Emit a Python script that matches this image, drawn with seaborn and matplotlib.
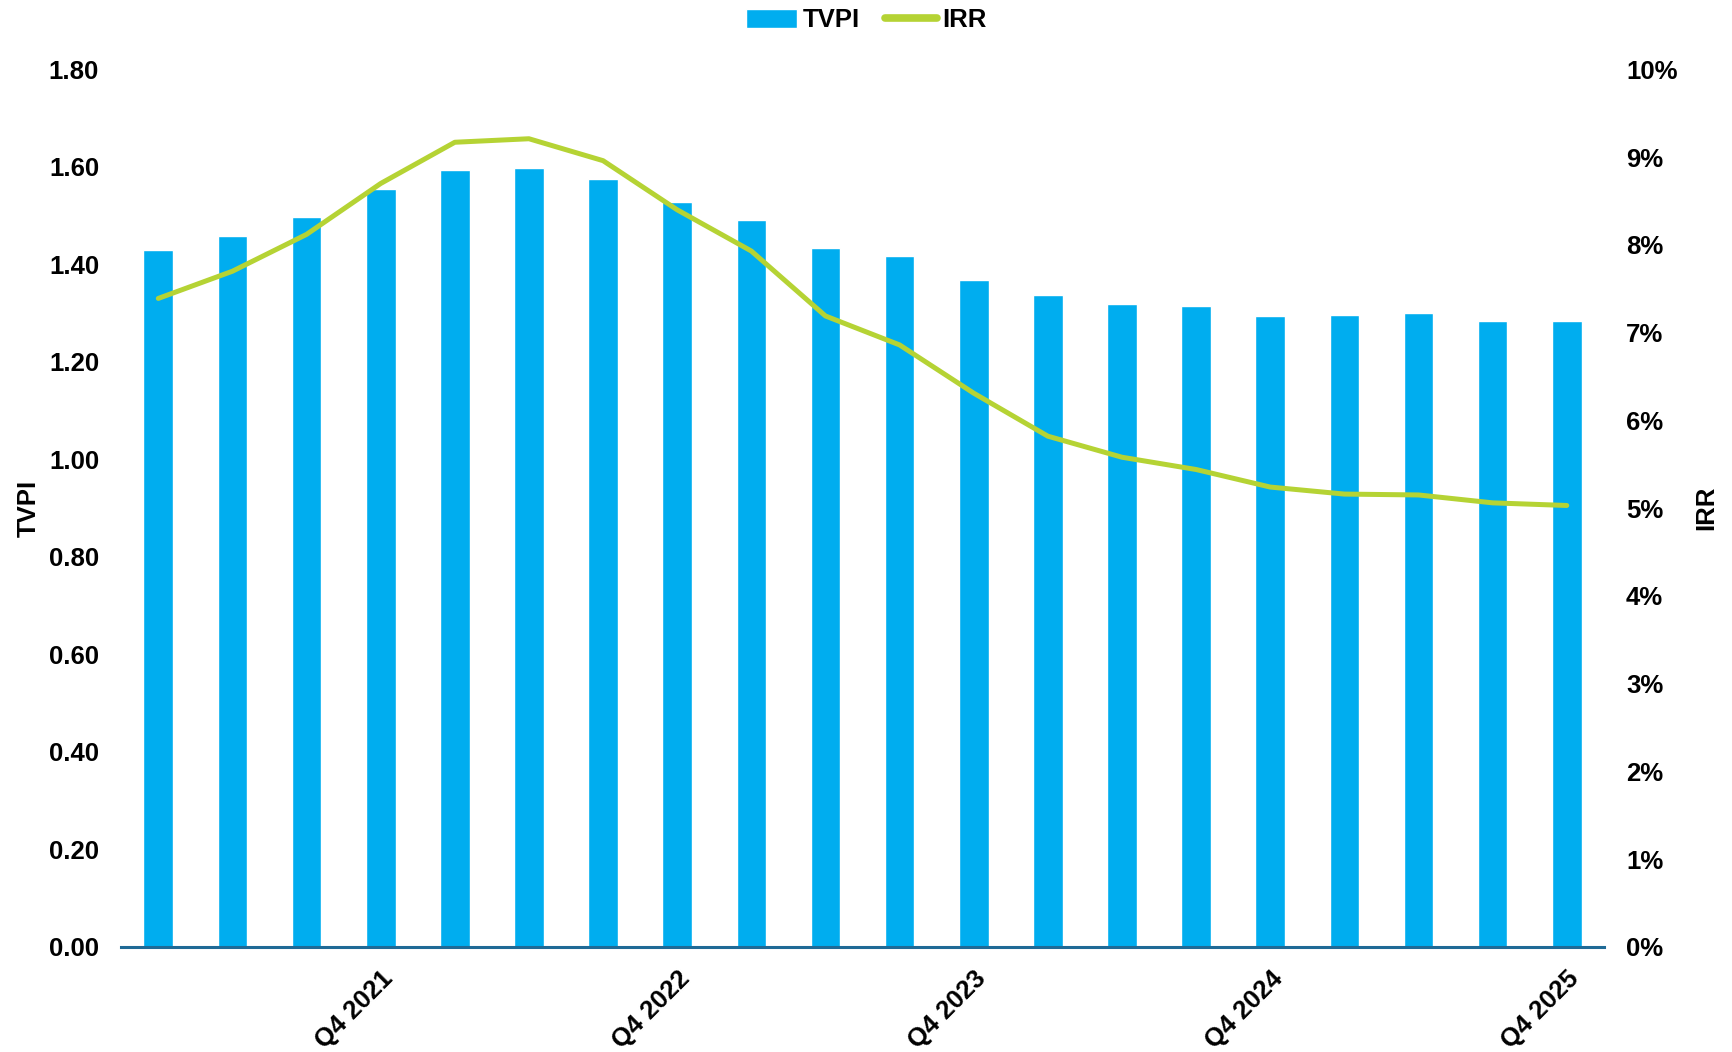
import numpy as np
import pandas as pd
import matplotlib
matplotlib.use("Agg")
import matplotlib.pyplot as plt
from matplotlib.ticker import PercentFormatter, FormatStrFormatter
import seaborn as sns

quarters = [
    "Q1 2021", "Q2 2021", "Q3 2021", "Q4 2021",
    "Q1 2022", "Q2 2022", "Q3 2022", "Q4 2022",
    "Q1 2023", "Q2 2023", "Q3 2023", "Q4 2023",
    "Q1 2024", "Q2 2024", "Q3 2024", "Q4 2024",
    "Q1 2025", "Q2 2025", "Q3 2025", "Q4 2025",
]
tvpi = [1.430, 1.459, 1.497, 1.554, 1.593, 1.598, 1.575, 1.528, 1.491, 1.433,
        1.417, 1.367, 1.337, 1.319, 1.314, 1.295, 1.296, 1.300, 1.283, 1.284]
irr = [7.39, 7.70, 8.12, 8.70, 9.17, 9.21, 8.96, 8.40, 7.93, 7.19,
       6.86, 6.31, 5.82, 5.58, 5.44, 5.24, 5.16, 5.15, 5.06, 5.03]

BAR_COLOR = "#00ADEF"
LINE_COLOR = "#B5D334"
AXIS_COLOR = "#1F6A96"
TEXT_COLOR = "black"
FS = 18.5

df = pd.DataFrame({"quarter": quarters, "TVPI": tvpi, "IRR": irr})
df["pos"] = np.arange(len(df))

sns.set_theme(style="white")
plt.rcParams["font.family"] = ["Liberation Sans", "DejaVu Sans"]
plt.rcParams["font.weight"] = "bold"
plt.rcParams["text.color"] = TEXT_COLOR
plt.rcParams["axes.labelcolor"] = TEXT_COLOR
plt.rcParams["xtick.color"] = TEXT_COLOR
plt.rcParams["ytick.color"] = TEXT_COLOR

fig = plt.figure(figsize=(17.32, 10.52), dpi=100)
ax = fig.add_axes([0.070, 0.100, 0.856, 0.834])

sns.barplot(data=df, x="quarter", y="TVPI", color=BAR_COLOR, saturation=1,
            width=0.40, ax=ax, label="TVPI")
ax.set_xlim(-0.5, len(df) - 0.5)
ax.set_ylim(0, 1.80)
ax.set_yticks(np.arange(0, 1.81, 0.20))
ax.yaxis.set_major_formatter(FormatStrFormatter("%.2f"))

ax2 = ax.twinx()
sns.lineplot(data=df, x="pos", y="IRR", color=LINE_COLOR, linewidth=3.6,
             ax=ax2, label="IRR", solid_capstyle="round")
ax2.set_ylim(0, 10)
ax2.set_yticks(np.arange(0, 11, 1))
ax2.yaxis.set_major_formatter(PercentFormatter(decimals=0))
ax2.set_xlim(-0.5, len(df) - 0.5)

labels = [q if q.startswith("Q4") else "" for q in quarters]
ax.set_xticks(df["pos"])
ax.set_xticklabels(labels, rotation=45, ha="right", rotation_mode="anchor",
                   fontsize=FS, fontweight="bold", color=TEXT_COLOR)
ax.tick_params(axis="x", length=0, pad=14, colors=TEXT_COLOR)
ax.tick_params(axis="y", length=0, pad=16, labelsize=FS, colors=TEXT_COLOR)
ax2.tick_params(axis="y", length=0, pad=16, labelsize=FS, colors=TEXT_COLOR)
for t in ax.get_yticklabels() + ax2.get_yticklabels():
    t.set_fontweight("bold")

ax.set_xlabel("")
ax.set_ylabel("TVPI", fontsize=FS, fontweight="bold", labelpad=6,
              color=TEXT_COLOR)
ax2.set_ylabel("IRR", fontsize=FS, fontweight="bold", labelpad=12,
               color=TEXT_COLOR)

for a in (ax, ax2):
    for side in ("top", "left", "right", "bottom"):
        a.spines[side].set_visible(False)
    a.grid(False)
ax.spines["bottom"].set_visible(True)
ax.spines["bottom"].set_color(AXIS_COLOR)
ax.spines["bottom"].set_linewidth(2.2)

h1, l1 = ax.get_legend_handles_labels()
h2, l2 = ax2.get_legend_handles_labels()
for a in (ax, ax2):
    if a.get_legend() is not None:
        a.get_legend().remove()
leg = fig.legend(h1[:1] + h2[:1], ["TVPI", "IRR"], loc="upper center",
                 bbox_to_anchor=(0.5, 1.014), ncol=2, frameon=False,
                 prop={"size": FS, "weight": "bold"}, handlelength=2.0,
                 handleheight=0.75, handletextpad=0.2, columnspacing=1.0)
for ln in leg.get_lines():
    ln.set_linewidth(5.5)
for t in leg.get_texts():
    t.set_color(TEXT_COLOR)

fig.savefig("out.png", dpi=100)
